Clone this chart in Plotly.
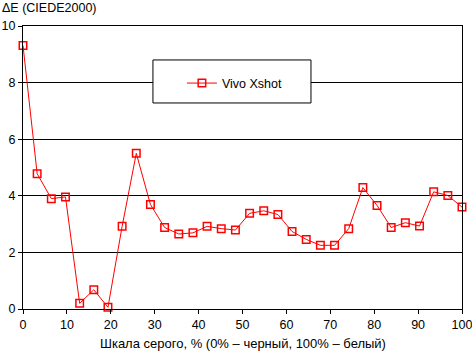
import plotly.graph_objects as go

x_vals = [i * 100 / 31 for i in range(32)]
delta_e = [9.31, 4.78, 3.90, 3.96, 0.20, 0.68, 0.06, 2.92, 5.50, 3.69,
           2.88, 2.65, 2.69, 2.92, 2.84, 2.79, 3.38, 3.47, 3.34, 2.74,
           2.46, 2.25, 2.25, 2.84, 4.29, 3.66, 2.88, 3.05, 2.93, 4.14,
           4.01, 3.60]
series_name = "Vivo Xshot"
x_ticks = [0, 10, 20, 30, 40, 50, 60, 70, 80, 90, 100]
y_ticks = [0, 2, 4, 6, 8, 10]
y_title = "ΔE (CIEDE2000)"
x_title = "Шкала серого, % (0% – черный, 100% – белый)"

FONT = "Liberation Sans, Arial, sans-serif"

fig = go.Figure()
fig.add_trace(go.Scatter(
    x=x_vals, y=delta_e, name=series_name, mode="lines+markers",
    line=dict(color="#ff0000", width=1),
    marker=dict(symbol="square-open", size=7.5, color="#ff0000", line=dict(width=1.5, color="#ff0000")),
    showlegend=True,
    cliponaxis=False,
))

fig.update_layout(
    width=472, height=352,
    margin=dict(l=23, r=10, t=26, b=43, autoexpand=False),
    paper_bgcolor="white", plot_bgcolor="white",
    font=dict(family=FONT, size=12.5, color="black"),
    showlegend=True,
    legend=dict(x=0.362, y=0.797, xanchor="left", yanchor="middle",
                bgcolor="rgba(0,0,0,0)", borderwidth=0,
                font=dict(family=FONT, size=12.5, color="black")),
    xaxis=dict(range=[0, 100], tickvals=x_ticks, ticks="outside", ticklen=4,
               tickcolor="black", showgrid=False, zeroline=False,
               showline=True, linecolor="black", linewidth=1, mirror=True,
               fixedrange=True, automargin=False, ticklabeloverflow="allow"),
    yaxis=dict(range=[0, 10], tickvals=y_ticks, ticks="outside", ticklen=4,
               tickcolor="black", showgrid=True, gridcolor="black", gridwidth=1,
               zeroline=False, showline=True, linecolor="black", linewidth=1,
               mirror=True, fixedrange=True, automargin=False, ticklabeloverflow="allow"),
    shapes=[dict(type="rect", xref="paper", yref="paper",
                 x0=0.296, x1=0.656, y0=0.728, y1=0.880,
                 line=dict(color="black", width=1), fillcolor="white", layer="above")],
    annotations=[
        dict(text=y_title, xref="paper", yref="paper", x=-23/439, y=(309-8)/283,
             xanchor="left", yanchor="middle", showarrow=False,
             font=dict(family=FONT, size=12.5)),
        dict(text=x_title, xref="paper", yref="paper", x=0.5, y=(309-343)/283,
             xanchor="center", yanchor="middle", showarrow=False,
             font=dict(family=FONT, size=13)),
    ],
)

fig.write_html("out.html")
